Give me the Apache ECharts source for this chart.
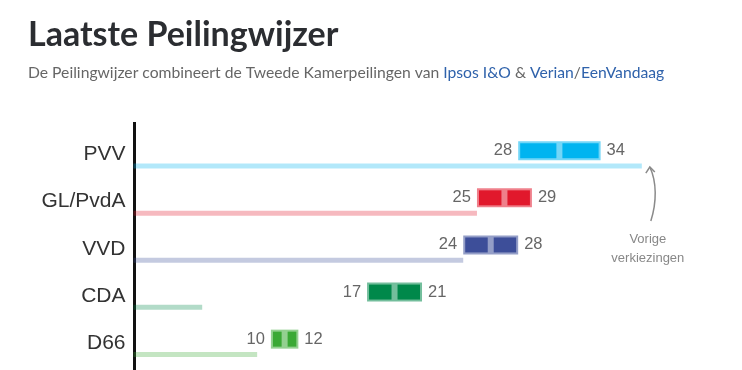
<!DOCTYPE html>
<html>
<head>
<meta charset="utf-8">
<script src="https://cdn.jsdelivr.net/npm/echarts@6/dist/echarts.min.js"></script>
<style>
html,body{margin:0;padding:0;background:#fff;}
#chart{width:742px;height:370px;}
</style>
</head>
<body>
<div id="chart"></div>
<script>
// ---- data ----
const parties = ['PVV', 'GL/PvdA', 'VVD', 'CDA', 'D66'];
const low = [28, 25, 24, 17, 10];
const high = [34, 29, 28, 21, 12];
const mid = [31, 27, 26, 19, 11];
const previous = [37, 25, 24, 5, 9];
const colors = ['#00b4f0', '#e1182c', '#3d4e99', '#00884a', '#3aa935'];

const chart = echarts.init(document.getElementById('chart'), null, {renderer: 'canvas'});

function hexToRgba(hex, a) {
  const n = parseInt(hex.slice(1), 16);
  return 'rgba(' + ((n >> 16) & 255) + ',' + ((n >> 8) & 255) + ',' + (n & 255) + ',' + a + ')';
}

const rangeData = parties.map((p, i) => [i, low[i], high[i], mid[i]]);
const prevData = parties.map((p, i) => [i, previous[i]]);

const option = {
  animation: false,
  title: {
    text: 'Laatste Peilingwijzer',
    left: 28,
    top: 18,
    padding: 0,
    itemGap: 13,
    textStyle: {fontFamily: 'Lato', fontWeight: 'bold', fontSize: 34, color: '#2b2d31'},
    subtext: 'De Peilingwijzer combineert de Tweede Kamerpeilingen van {l|Ipsos I&O} & {l|Verian}/{l|EenVandaag}',
    subtextStyle: {
      fontFamily: 'Lato', fontSize: 15.7, color: '#666',
      rich: {l: {fontFamily: 'Lato', fontSize: 15.7, color: '#2f62ab'}}
    }
  },
  grid: {left: 133.5, right: 4, top: 134.5, height: 240},
  xAxis: {type: 'value', min: 0, max: 44, show: false},
  yAxis: {
    type: 'category', data: parties, inverse: true,
    axisLine: {show: false}, axisTick: {show: false}, splitLine: {show: false},
    axisLabel: {
      fontFamily: 'Liberation Sans', fontSize: 21, color: '#333',
      margin: 8, verticalAlign: 'bottom', lineHeight: 7
    }
  },
  series: [
    {
      type: 'custom',
      name: 'previous',
      data: prevData,
      encode: {x: 1, y: 0},
      renderItem: function (params, api) {
        const i = api.value(0);
        const start = api.coord([0, i]);
        const end = api.coord([api.value(1), i]);
        const band = api.size([0, 1])[1];
        const cy = start[1] + band * 0.17;
        return {
          type: 'rect',
          shape: {x: start[0], y: cy - 2.5, width: end[0] - start[0], height: 5},
          style: {fill: hexToRgba(colors[i], 0.3)}
        };
      }
    },
    {
      type: 'custom',
      name: 'range',
      data: rangeData,
      encode: {x: [1, 2], y: 0},
      renderItem: function (params, api) {
        const i = api.value(0);
        const pLo = api.coord([api.value(1), i]);
        const pHi = api.coord([api.value(2), i]);
        const pMid = api.coord([api.value(3), i]);
        const band = api.size([0, 1])[1];
        const cy = pLo[1] - band * 0.155;
        const h = 19, b = 2, g = 3;
        const col = colors[i];
        return {
          type: 'group',
          children: [
            {type: 'rect', shape: {x: pLo[0], y: cy - h / 2, width: pHi[0] - pLo[0], height: h},
             style: {fill: hexToRgba(col, 0.55)}},
            {type: 'rect', shape: {x: pLo[0] + b, y: cy - h / 2 + b, width: pMid[0] - g - pLo[0] - b, height: h - 2 * b},
             style: {fill: col}},
            {type: 'rect', shape: {x: pMid[0] + g, y: cy - h / 2 + b, width: pHi[0] - b - pMid[0] - g, height: h - 2 * b},
             style: {fill: col}},
            {type: 'text', style: {x: pLo[0] - 6, y: cy, text: String(api.value(1)), align: 'right', verticalAlign: 'middle',
              fontFamily: 'Liberation Sans', fontSize: 16.5, fill: '#666'}},
            {type: 'text', style: {x: pHi[0] + 6, y: cy, text: String(api.value(2)), align: 'left', verticalAlign: 'middle',
              fontFamily: 'Liberation Sans', fontSize: 16.5, fill: '#666'}}
          ]
        };
      }
    }
  ]
};
chart.setOption(option);

// axis line and annotation, positioned from the chart's own scales
const origin = chart.convertToPixel({gridIndex: 0}, [0, 0]);
const pvvPrev = chart.convertToPixel({gridIndex: 0}, [previous[0], 0]);
const ax = Math.round(origin[0]) + 0.5;
const tipX = pvvPrev[0] + 8, tipY = pvvPrev[1] + 9;
chart.setOption({
  graphic: [
    {type: 'line', shape: {x1: ax, y1: 122, x2: ax, y2: 372}, style: {stroke: '#111', lineWidth: 3}},
    {type: 'bezierCurve', shape: {x1: tipX + 1, y1: tipY + 54, cpx1: tipX + 7, cpy1: tipY + 35, cpx2: tipX + 7, cpy2: tipY + 15, x2: tipX, y2: tipY},
      style: {stroke: '#8a8a8a', lineWidth: 1.5, fill: null}},
    {type: 'polyline', shape: {points: [[tipX - 4, tipY + 6], [tipX, tipY], [tipX + 5, tipY + 5]]},
      style: {stroke: '#8a8a8a', lineWidth: 1.5, fill: null}},
    {type: 'text', x: tipX - 2, y: tipY + 72, style: {text: 'Vorige', align: 'center', verticalAlign: 'middle',
      fontFamily: 'Liberation Sans', fontSize: 13, fill: '#888'}},
    {type: 'text', x: tipX - 2, y: tipY + 91, style: {text: 'verkiezingen', align: 'center', verticalAlign: 'middle',
      fontFamily: 'Liberation Sans', fontSize: 13, fill: '#888'}}
  ]
});
</script>
</body>
</html>
